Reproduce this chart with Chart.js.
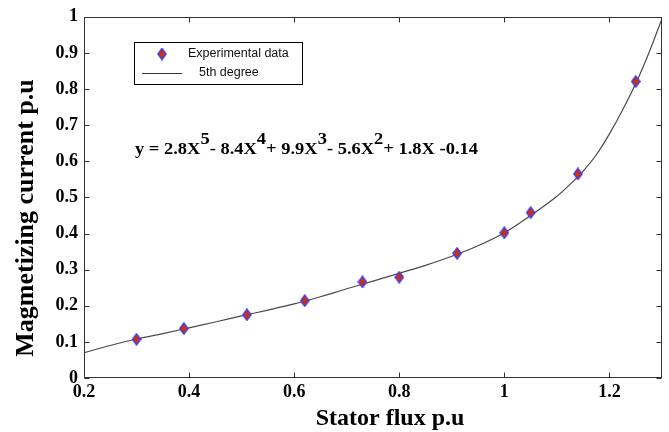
<!DOCTYPE html>
<html>
<head>
<meta charset="utf-8">
<script src="https://cdn.jsdelivr.net/npm/chart.js@4.4.1/dist/chart.umd.min.js"></script>
<style>
body{margin:0;background:#fff;}
canvas{display:block;}
</style>
</head>
<body>
<canvas id="myChart" width="669" height="432"></canvas>
<script>
const fluxData = [0.30, 0.39, 0.51, 0.62, 0.73, 0.80, 0.91, 1.00, 1.05, 1.14, 1.25];
const currentData = [0.107, 0.137, 0.175, 0.214, 0.266, 0.279, 0.345, 0.402, 0.458, 0.565, 0.821];

// 5th degree fit, sampled off the drawn curve
const fitFlux = [0.2, 0.25, 0.3, 0.35, 0.4, 0.45, 0.5, 0.55, 0.6, 0.65, 0.7, 0.75, 0.8, 0.85, 0.9, 0.95, 1.0, 1.05, 1.1, 1.125, 1.15, 1.175, 1.2, 1.225, 1.25, 1.275, 1.3];
const fitCurrent = [0.070, 0.090, 0.108, 0.123, 0.139, 0.155, 0.172, 0.188, 0.205, 0.225, 0.247, 0.268, 0.290, 0.312, 0.337, 0.366, 0.402, 0.450, 0.503, 0.536, 0.573, 0.618, 0.676, 0.742, 0.815, 0.900, 0.995];

const xTicks = [0.2, 0.4, 0.6, 0.8, 1, 1.2];
const xTickLabels = ['0.2', '0.4', '0.6', '0.8', '1', '1.2'];
const yTicks = [0, 0.1, 0.2, 0.3, 0.4, 0.5, 0.6, 0.7, 0.8, 0.9, 1];
const yTickLabels = ['0', '0.1', '0.2', '0.3', '0.4', '0.5', '0.6', '0.7', '0.8', '0.9', '1'];

const legendLabels = ['Experimental data', '5th degree'];
const xTitle = 'Stator flux p.u';
const yTitle = 'Magmetizing current p.u';
// equation text, [text, superscript?]
const equationParts = [['y = 2.8X', false], ['5', true], ['- 8.4X', false], ['4', true], ['+ 9.9X', false], ['3', true], ['- 5.6X', false], ['2', true], ['+ 1.8X -0.14', false]];

const serif = "'Liberation Serif', 'Times New Roman', serif";
const sans = "'Liberation Sans', Arial, sans-serif";

// diamond marker, a bit taller than wide like the matlab one
function makeDiamond(){
  const c = document.createElement('canvas');
  c.width = 10; c.height = 13;
  const g = c.getContext('2d');
  g.beginPath();
  g.moveTo(5, 0.8);
  g.lineTo(9.2, 6.5);
  g.lineTo(5, 12.2);
  g.lineTo(0.8, 6.5);
  g.closePath();
  g.fillStyle = '#c8320f';
  g.fill();
  g.strokeStyle = '#3a3aff';
  g.lineWidth = 1.3;
  g.stroke();
  return c;
}
const diamond = makeDiamond();

const framePlugin = {
  id: 'frame',
  afterDraw(chart){
    const ctx = chart.ctx;
    const a = chart.chartArea;
    const xs = chart.scales.x, ys = chart.scales.y;
    const L = Math.round(a.left) + 0.5, R = Math.round(a.right) - 0.5;
    const T = Math.round(a.top) + 0.5, B = Math.round(a.bottom) - 0.5;
    ctx.save();
    ctx.strokeStyle = '#333';
    ctx.lineWidth = 1;
    ctx.strokeRect(L, T, R - L, B - T);
    // inward ticks on all four sides
    ctx.beginPath();
    xTicks.forEach(v => {
      const px = Math.round(xs.getPixelForValue(v)) + 0.5;
      ctx.moveTo(px, B); ctx.lineTo(px, B - 5);
      ctx.moveTo(px, T); ctx.lineTo(px, T + 5);
    });
    yTicks.forEach(v => {
      const py = Math.round(ys.getPixelForValue(v)) + 0.5;
      ctx.moveTo(L, py); ctx.lineTo(L + 5, py);
      ctx.moveTo(R, py); ctx.lineTo(R - 5, py);
    });
    ctx.stroke();

    // legend box
    ctx.fillStyle = '#fff';
    ctx.fillRect(134.5, 42.5, 168, 42);
    ctx.strokeStyle = '#000';
    ctx.strokeRect(134.5, 42.5, 168, 42);
    ctx.drawImage(diamond, 162 - 5, 54 - 6.5);
    ctx.strokeStyle = '#333';
    ctx.beginPath();
    ctx.moveTo(142, 73.5); ctx.lineTo(182, 73.5);
    ctx.stroke();
    ctx.fillStyle = '#111';
    ctx.font = '12.5px ' + sans;
    ctx.textBaseline = 'middle';
    ctx.textAlign = 'left';
    ctx.fillText(legendLabels[0], 188, 54);
    ctx.fillText(legendLabels[1], 199, 73);

    // equation
    ctx.font = 'bold 16px ' + serif;
    ctx.textBaseline = 'alphabetic';
    let total = 0;
    equationParts.forEach(p => { total += ctx.measureText(p[0]).width; });
    ctx.save();
    ctx.translate(135, 154);
    ctx.scale(343 / total, 1);
    ctx.fillStyle = '#000';
    let cx = 0;
    equationParts.forEach(p => {
      ctx.fillText(p[0], cx, p[1] ? -10 : 0);
      cx += ctx.measureText(p[0]).width;
    });
    ctx.restore();

    // axis titles
    ctx.fillStyle = '#000';
    ctx.font = 'bold 24px ' + serif;
    ctx.textAlign = 'center';
    ctx.fillText(xTitle, 390, 425);
    ctx.save();
    ctx.translate(33, 218);
    ctx.rotate(-Math.PI / 2);
    ctx.font = 'bold 26px ' + serif;
    ctx.fillText(yTitle, 0, 0);
    ctx.restore();
    ctx.restore();
  }
};

const ctx = document.getElementById('myChart');

new Chart(ctx, {
  type: 'scatter',
  data: {
    datasets: [{
      label: legendLabels[0],
      data: fluxData.map((x, i) => ({x: x, y: currentData[i]})),
      pointStyle: diamond,
      pointRadius: 6,
      showLine: false
    }, {
      label: legendLabels[1],
      data: fitFlux.map((x, i) => ({x: x, y: fitCurrent[i]})),
      showLine: true,
      pointRadius: 0,
      borderColor: '#4a4a4a',
      borderWidth: 1.2,
      cubicInterpolationMode: 'monotone'
    }]
  },
  options: {
    responsive: false,
    animation: false,
    devicePixelRatio: 1,
    layout: {padding: {top: 13, right: 5, left: 0, bottom: 0}},
    plugins: {legend: {display: false}, tooltip: {enabled: false}},
    scales: {
      x: {
        type: 'linear',
        min: 0.2, max: 1.3,
        grid: {display: false, drawTicks: false},
        border: {display: false},
        afterBuildTicks: s => { s.ticks = xTicks.map(v => ({value: v})); },
        afterFit: s => { s.height = 54; },
        ticks: {
          padding: 4,
          color: '#000',
          font: {family: serif, weight: 'bold', size: 18},
          callback: (v, i) => xTickLabels[i]
        }
      },
      y: {
        type: 'linear',
        min: 0, max: 1,
        grid: {display: false, drawTicks: false},
        border: {display: false},
        afterBuildTicks: s => { s.ticks = yTicks.map(v => ({value: v})); },
        afterFit: s => { s.width = 84; },
        ticks: {
          padding: 6,
          color: '#000',
          font: {family: serif, weight: 'bold', size: 18},
          callback: (v, i) => yTickLabels[i]
        }
      }
    }
  },
  plugins: [framePlugin]
});
</script>
</body>
</html>
